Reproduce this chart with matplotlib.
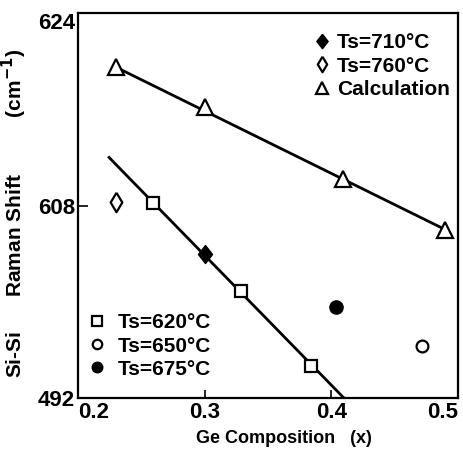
import numpy as np
import matplotlib
matplotlib.use("Agg")
from matplotlib import pyplot as plt

plt.rcParams['font.family'] = ['Liberation Sans', 'DejaVu Sans']

# Calculation (triangles + line)
calc_x = [0.23, 0.30, 0.409, 0.49]
calc_y = [619.5, 616.2, 610.2, 606.0]

# measured points
ts620_x = [0.259, 0.329, 0.384]
ts620_y = [608.2, 600.9, 594.7]
ts650_x = [0.4715]
ts650_y = [596.3]
ts675_x = [0.404]
ts675_y = [599.6]
ts710_x = [0.300]
ts710_y = [604.0]
ts760_x = [0.230]
ts760_y = [608.3]

# fitted line through the low-temperature points
fit_x = [0.2245, 0.410]
fit_y = [612.0, 592.0]

y_ticks = [592, 608, 624]
y_labels = ['492', '608', '624']
x_ticks = [0.2, 0.3, 0.4, 0.5]
x_labels = ['0.2', '0.3', '0.4', '0.5']

fig = plt.figure(figsize=(4.63, 4.51), dpi=100)
ax = fig.add_axes([0.1685, 0.1175, 0.8205, 0.8535])

ax.plot(calc_x[0::3], calc_y[0::3], color='black', lw=2)
ax.plot(fit_x, fit_y, color='black', lw=2)

open_dia = [(0, 1), (0.6, 0), (0, -1), (-0.6, 0), (0, 1)]
fill_dia = [(0, 1), (0.78, 0), (0, -1), (-0.78, 0), (0, 1)]

kw_open = dict(ls='none', mfc='white', mec='black', mew=1.6)
h_calc, = ax.plot(calc_x, calc_y, marker='^', ms=11, **kw_open)
h620, = ax.plot(ts620_x, ts620_y, marker='s', ms=8.5, **kw_open)
h650, = ax.plot(ts650_x, ts650_y, marker='o', ms=8.5, **kw_open)
h675, = ax.plot(ts675_x, ts675_y, ls='none', marker='o', ms=9.5, mfc='black', mec='black')
h710, = ax.plot(ts710_x, ts710_y, ls='none', marker=fill_dia, ms=13, mfc='black', mec='black')
h760, = ax.plot(ts760_x, ts760_y, marker=open_dia, ms=14, **kw_open)

leg_font = {'size': 15, 'weight': 'bold'}
leg1 = ax.legend([h710, h760, h_calc], ['Ts=710°C', 'Ts=760°C', 'Calculation'],
                 loc='upper left', bbox_to_anchor=(0.615, 0.947), frameon=False,
                 borderpad=0, borderaxespad=0, markerscale=0.8,
                 handlelength=1.0, handletextpad=0.2, labelspacing=0.2,
                 prop=leg_font)
ax.add_artist(leg1)
ax.legend([h620, h650, h675], ['Ts=620°C', 'Ts=650°C', 'Ts=675°C'],
          loc='lower left', bbox_to_anchor=(0.0226, 0.05), frameon=False,
          borderpad=0, borderaxespad=0, markerscale=0.8,
          handlelength=1.0, handletextpad=0.5, labelspacing=0.2,
          prop=leg_font)

ax.set_xlim(0.2, 0.5)
ax.set_ylim(592, 624)
ax.set_xticks(x_ticks)
ax.set_xticklabels(x_labels, fontsize=16, fontweight='bold')
ax.set_yticks(y_ticks)
ax.set_yticklabels(y_labels, fontsize=16, fontweight='bold')
ax.get_xticklabels()[0].set_ha('left')
ax.get_xticklabels()[-1].set_ha('right')
ax.get_yticklabels()[-1].set_va('top')
ax.tick_params(axis='x', direction='in', length=6, width=1.2, pad=3)
ax.tick_params(axis='y', direction='in', length=7, width=1.2, pad=2)

for s in ax.spines.values():
    s.set_linewidth(1.6)

ax.set_xlabel('Ge Composition   (x)', fontsize=13, fontweight='bold')
ax.xaxis.set_label_coords(0.542, -0.082)
ax.set_ylabel('Si-Si      Raman Shift          (cm$^{\\mathbf{-1}}$)',
              fontsize=15, fontweight='bold')
ax.yaxis.set_label_coords(-0.13, 0.48)

fig.savefig('out.png', dpi=100)
